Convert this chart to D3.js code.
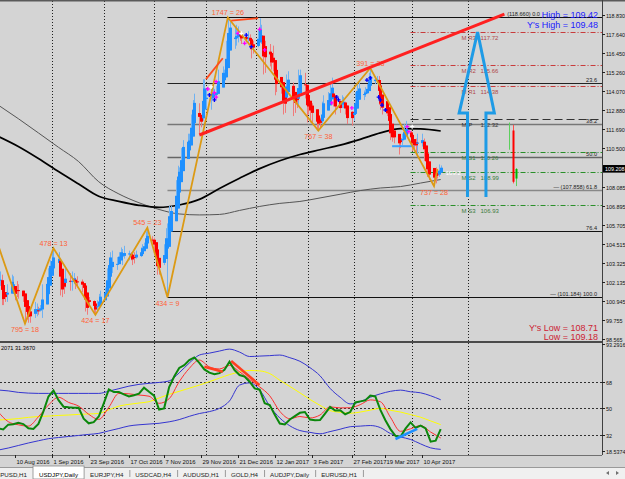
<!DOCTYPE html>
<html>
<head>
<meta charset="utf-8">
<script src="https://cdnjs.cloudflare.com/ajax/libs/d3/7.8.5/d3.min.js"></script>
<style>
  body { margin: 0; background: #d4d4d4; }
  svg { display: block; font-family: "Liberation Sans", Arial, sans-serif; }
</style>
</head>
<body>
<svg id="chart" width="625" height="479"></svg>
<script>
const parseDate = d3.utcParse('%Y-%m-%d');

// ---- daily bars, Mon-Fri, 1 Aug 2016 .. 21 Apr 2017 ----
const firstBar = '2016-08-01';
const lastBar = '2017-04-21';
const prevClose = 102.05;
const closes = [
    102.4, 100.9, 101.3, 101.2, 101.8,   102.5, 101.6, 101.2, 101.9, 101.3,
    101.2, 100.3, 100.1, 99.9, 100.2,    100.8, 100.2, 100.5, 100.5, 101.8,
    102.0, 102.9, 103.4, 103.3, 104.0,   103.4, 101.7, 101.8, 102.0, 102.6,
    101.8, 102.6, 102.2, 102.0, 102.3,   101.8, 101.7, 100.3, 100.8, 101.0,
    100.4, 100.5, 100.7, 101.1, 101.3,   101.6, 102.9, 103.5, 103.9, 102.9,
    103.6, 103.9, 104.2, 103.6, 104.2,   103.9, 103.8, 103.4, 103.9, 103.8,
    104.2, 104.3, 104.5, 105.3, 104.7,   104.8, 104.2, 103.3, 103.1, 103.1,
    104.5, 105.1, 105.7, 106.8, 106.6,   108.4, 109.1, 109.2, 110.3, 110.9,
    110.8, 111.1, 112.5, 113.3, 113.2,   111.9, 112.3, 114.5, 114.0, 113.5,
    114.0, 114.0, 113.8, 114.0, 115.3,   115.2, 115.0, 117.2, 118.1, 117.9,
    117.0, 117.9, 117.6, 117.5, 117.3,   117.3, 117.4, 117.0, 116.5, 117.0,
    117.6, 117.8, 117.2, 115.3, 117.0,   115.8, 115.8, 115.4, 114.5, 114.5,
    114.2, 112.7, 113.8, 115.0, 114.6,   112.8, 113.8, 113.3, 115.1, 115.1,
    113.8, 112.8, 113.2, 112.8, 112.6,   111.8, 112.3, 111.9, 113.2, 113.2,
    113.7, 114.2, 114.1, 113.3, 112.9,   113.1, 113.6, 113.3, 112.6, 112.1,
    112.7, 112.8, 113.7, 114.4, 114.0,   113.9, 114.0, 114.4, 115.0, 114.8,
    114.8, 114.8, 113.3, 113.3, 112.7,   112.6, 111.7, 111.2, 111.1, 111.3,
    110.6, 111.1, 111.1, 111.9, 111.4,   111.0, 110.7, 110.7, 110.8, 111.1,
    110.9, 110.0, 109.4, 109.1, 108.6,   108.9, 108.6, 108.9, 109.3, 109.21
];
const highs = [
    102.8, 102.6, 101.4, 101.4, 102.0,   102.6, 102.5, 101.8, 102.2, 102.0,
    101.6, 101.3, 100.9, 100.3, 100.3,   100.9, 100.8, 100.6, 100.7, 102.0,
    102.4, 103.0, 103.5, 104.0, 104.3,   104.0, 103.5, 102.0, 102.2, 103.0,
    102.7, 102.8, 102.7, 102.4, 102.5,   102.3, 102.0, 101.9, 100.9, 101.2,
    101.0, 100.7, 101.0, 101.4, 101.6,   101.8, 103.0, 103.6, 104.0, 104.1,
    103.7, 104.0, 104.3, 104.2, 104.4,   104.1, 104.0, 103.8, 104.0, 104.1,
    104.3, 104.5, 104.6, 105.3, 105.5,   105.0, 104.9, 104.2, 103.5, 103.3,
    104.5, 105.5, 105.8, 106.9, 106.9,   108.5, 109.4, 109.3, 110.5, 111.0,
    111.4, 111.4, 112.6, 113.5, 113.9,   113.3, 112.6, 114.8, 114.8, 114.2,
    114.2, 114.3, 114.2, 114.4, 115.4,   115.6, 115.4, 117.2, 118.66, 118.5,
    118.0, 118.2, 118.1, 117.8, 117.6,   117.5, 117.8, 117.6, 117.1, 117.2,
    117.9, 118.6, 118.2, 117.3, 117.2,   117.0, 116.4, 116.9, 115.4, 115.0,
    114.6, 114.3, 113.9, 115.1, 115.3,   114.6, 114.0, 113.9, 115.4, 115.4,
    115.2, 114.0, 113.8, 113.3, 113.3,   112.6, 112.4, 112.4, 113.4, 113.8,
    114.0, 114.5, 114.9, 114.2, 113.6,   113.3, 113.8, 113.7, 113.4, 112.8,
    112.8, 113.1, 114.0, 114.6, 114.6,   114.1, 114.3, 114.5, 115.2, 115.5,
    115.0, 115.0, 115.0, 113.6, 113.5,   112.9, 112.9, 111.8, 111.5, 111.5,
    111.2, 111.3, 111.4, 112.0, 112.2,   111.6, 111.2, 111.0, 111.1, 111.4,
    111.4, 111.1, 110.1, 109.5, 109.2,   109.0, 109.3, 109.2, 109.48, 109.42
];
const lows = [
    101.9, 100.7, 100.7, 100.9, 100.9,   101.7, 101.4, 101.0, 101.2, 101.1,
    100.9, 99.55, 99.8, 99.6, 99.6,      99.9, 100.0, 100.1, 100.3, 99.9,
    101.9, 101.9, 102.8, 103.1, 103.1,   103.0, 101.3, 101.2, 101.4, 101.8,
    101.6, 101.6, 102.0, 101.7, 101.8,   101.5, 101.6, 100.3, 100.1, 100.6,
    100.2, 100.1, 100.3, 100.5, 100.9,   101.2, 101.5, 102.8, 103.3, 102.7,
    102.9, 103.4, 103.6, 103.2, 103.6,   103.5, 103.5, 103.2, 103.3, 103.6,
    103.7, 104.0, 104.1, 104.4, 104.6,   104.6, 104.0, 103.2, 102.6, 102.6,
    103.2, 104.4, 101.2, 105.6, 106.0,   106.6, 108.0, 108.5, 109.0, 110.1,
    110.5, 110.6, 110.9, 112.3, 112.9,   111.4, 111.8, 112.2, 113.6, 112.9,
    112.9, 113.6, 113.4, 113.6, 114.0,   114.7, 114.8, 114.9, 116.8, 117.6,
    116.7, 116.9, 117.1, 117.2, 117.0,   117.1, 117.1, 116.8, 116.1, 116.4,
    116.8, 117.5, 117.0, 115.1, 115.2,   115.6, 115.4, 115.3, 113.8, 114.0,
    113.9, 112.6, 112.7, 113.5, 114.2,   112.5, 112.7, 113.0, 113.2, 114.6,
    113.6, 112.1, 112.6, 112.1, 112.1,   111.6, 111.6, 111.7, 111.9, 113.0,
    113.1, 113.3, 113.9, 113.1, 112.6,   112.7, 113.0, 113.0, 112.6, 112.0,
    111.9, 112.2, 112.7, 113.6, 113.9,   113.5, 113.7, 113.9, 114.3, 114.6,
    114.5, 114.5, 113.2, 112.9, 112.6,   112.5, 111.6, 111.0, 110.9, 110.8,
    110.1, 110.5, 110.7, 111.0, 111.3,   110.7, 110.3, 110.3, 110.1, 110.1,
    110.6, 109.7, 109.2, 108.7, 108.5,   108.13, 108.3, 108.6, 108.71, 109.18
];
const currentPrice = 109.208;

// ---- moving averages, one value every 12 days from 31 Jul 2016 ----
const maStart = '2016-07-31';
const maStep = 12;
const maBlack = [111.23, 110.6, 109.85, 109.04, 108.26, 107.49, 107.18, 106.93, 106.8, 106.95, 107.3, 107.98,
    108.62, 109.22, 109.71, 110.1, 110.4, 110.69, 111.05, 111.45, 111.72, 111.7, 111.57];
const maGray = [113.19, 112.34, 111.45, 110.55, 109.66, 108.4, 107.64, 107.09, 106.67, 106.39, 106.33, 106.36,
    106.61, 106.86, 107.05, 107.17, 107.39, 107.62, 107.85, 108.01, 108.1, 108.32, 108.54];

// ---- zigzag swings ----
const zigzagDates = ['2016-07-21', '2016-08-16', '2016-09-02', '2016-09-27', '2016-10-28', '2016-11-09',
    '2016-12-15', '2017-02-07', '2017-03-10', '2017-04-17', '2017-04-19'];
const zigzagPrices = [107.49, 99.55, 104.25, 100.09, 105.53, 101.19, 118.66, 111.59, 115.50, 108.13, 109.2];
const zigzagLabels = [null, '795 = 18', '478 = 13', '424 = 17', '545 = 23', '434 = 9', '1747 = 26',
    '767 = 38', '391 = 23', '737 = 28', null];

// ---- fibonacci retracement ----
const fibStart = '2016-11-09';
const fibHigh = 118.66;
const fibLow = 101.184;
const fibLevels = [0, 23.6, 38.2, 50, 61.8, 76.4, 100];
const fibLabels = ['(118.660) 0.0', '23.6', '38.2', '50.0', '\u2014 (107.858)  61.8', '76.4', '\u2014 (101.184)  100.0'];
const fibColors = ['#111', '#222', '#777', '#666', '#888', '#111', '#111'];

// ---- pivot levels ----
const pivotStart = '2017-04-03';
const pivotNames = ['M R3', 'M R2', 'M R1', 'M P', 'M S1', 'M S2', 'M S3'];
const pivotValues = [117.72, 115.66, 114.38, 112.32, 110.26, 108.99, 106.93];

// ---- drawn objects ----
const trendLine = [['2016-11-28', 111.32], ['2017-05-29', 118.87]];
const shortLines = [
    [['2016-12-02', 114.81], ['2016-12-12', 116.11]],
    [['2016-12-17', 118.46], ['2017-01-02', 118.61]]
];
const blueSegment = [['2017-03-23', 110.62], ['2017-04-05', 110.62]];
const arrowShape = [['2017-05-07', 107.45], ['2017-05-07', 112.69], ['2017-05-02', 112.69], ['2017-05-13', 117.75],
    ['2017-05-23', 112.69], ['2017-05-18', 112.69], ['2017-05-18', 107.45]];
const markers = [
    ['2016-12-03', 114.19, '#ff00ff'], ['2016-12-07', 113.96, '#ff00ff'], ['2016-12-08', 114.65, '#ff00ff'],
    ['2016-12-08', 113.69, '#ff00ff'], ['2016-12-04', 113.82, '#0000ff'], ['2016-12-07', 113.51, '#0000ff'],
    ['2016-12-05', 114.32, '#ffffff'], ['2016-12-21', 117.67, '#ff00ff'], ['2016-12-25', 117.04, '#ff00ff'],
    ['2017-01-03', 117.92, '#ff00ff'], ['2017-01-06', 116.63, '#ff00ff'], ['2016-12-29', 116.83, '#0000ff'],
    ['2016-12-26', 117.56, '#0000ff'], ['2016-12-23', 117.67, '#ffffff'], ['2017-02-15', 113.32, '#ff00ff'],
    ['2017-02-27', 113.01, '#ff00ff'], ['2017-02-18', 113.69, '#0000ff'], ['2017-02-19', 113.51, '#0000ff'],
    ['2017-03-08', 114.75, '#0000ff'], ['2017-03-10', 114.88, '#0000ff'], ['2017-03-15', 113.69, '#0000ff'],
    ['2017-03-16', 113.51, '#0000ff'], ['2017-03-17', 113.19, '#0000ff'], ['2017-03-19', 112.88, '#0000ff'],
    ['2017-04-01', 111.84, '#ff00ff'], ['2017-04-02', 111.53, '#ff00ff'], ['2017-04-04', 111.84, '#ffffff']
];
// projected candles on the right
const sideDates = ['2017-06-01', '2017-06-03', '2017-06-05'];
const sideOpen = [110.4, 111.6, 108.6];
const sideHigh = [112.1, 111.95, 109.25];
const sideLow = [110.4, 108.3, 108.13];
const sideClose = [112.1, 108.4, 109.2];

// ---- indicator window ----
const rsiStart = '2016-07-31';
const rsiStep = 3;
const rsiGreen = [36.5, 35.8, 39, 39.3, 40.2, 39.4, 36.5, 36.1, 39.5, 48, 58, 62, 55.5, 51.1, 50.7, 50.4, 50.4,
    43, 39.9, 40.7, 44.5, 53.4, 62.8, 61, 61, 59.4, 58, 58.8, 59.9, 64, 61.2, 58.6, 49.2, 50, 64.4, 71.5, 77.3,
    79.2, 82.6, 84.4, 80.7, 76.3, 74.1, 73, 73.8, 76.1, 81.5, 75.9, 72.5, 71.4, 68, 63.5, 62.6, 53.4, 52.2, 45.6,
    39.7, 39.1, 42.5, 44.8, 47, 47.5, 42.5, 42, 42.1, 46.5, 51, 48.5, 48.7, 46, 47.5, 54, 54.7, 55.4, 58.6, 58,
    49, 42, 36, 31.5, 30.8, 36.3, 40.5, 36.8, 38.3, 36.5, 27.5, 28.2, 36];
const bandStep = 6;
const rsiSignal = [47.7, 41, 38.9, 38, 44.3, 52.2, 57.5, 54, 51.5, 46, 42.5, 50.7, 60.1, 59.8, 59, 58.2, 53.4,
    56.5, 68, 77, 82.6, 78, 76.6, 79, 74.7, 69.5, 64.5, 58.5, 48, 43, 44.5, 43.5, 45.5, 51, 50.3, 50.4, 52.5,
    55.7, 54.5, 44, 34.5, 36.2, 38.4, 34, 30];
const rsiSlow = [42.1, 42.5, 43.1, 43.9, 44.5, 44.8, 45.2, 45.5, 45.9, 46.2, 46.6, 49, 51.5, 52.7, 53.6, 54.5,
    57, 59.5, 61.5, 63.6, 65.7, 68, 70.4, 72.8, 74.5, 75.6, 75.3, 73.5, 69, 64.8, 60.5, 56, 52, 48.5, 47.3,
    46.7, 47.5, 48.8, 50, 48.7, 47.5, 45.8, 44, 41.5, 39];
const bandUpper = [62.4, 61.8, 60.8, 60.3, 60.1, 60.1, 60.1, 60.1, 60.1, 60.1, 60.1, 61.6, 63.3, 65, 66.2, 66.9,
    67.5, 68.5, 74, 80.6, 86, 87.3, 88.7, 90, 88, 85, 85.3, 85.6, 86, 84.2, 81.8, 77.5, 72, 63.5, 57.5, 53,
    54.5, 57.5, 59.8, 61.5, 62.3, 61.2, 60.5, 58.5, 55.8];
const bandLower = [21.8, 23.2, 24.9, 26.6, 28.1, 29.5, 30.3, 31, 31.7, 32.4, 33.1, 34.8, 36.4, 38.1, 38.9, 39.4,
    39.9, 40.9, 42.4, 44.6, 46.5, 47.8, 50, 55, 65.7, 67.2, 62.5, 51.5, 43.5, 38.2, 35, 33.8, 32.8, 34.3, 35.9,
    37.6, 38, 38.4, 37, 33, 30.7, 29, 26, 23.3, 22.3];
const rsiLevels = [68, 50, 32];
const indicatorLines = [
    [['2016-12-01', 78.1], ['2016-12-12', 74.7], '#ff4020'],
    [['2016-12-17', 82.0], ['2017-01-03', 65.7], '#ff4020'],
    [['2017-03-25', 29.3], ['2017-04-07', 36.1], '#1e90ff']
];

// ---- axes ----
const priceTicks = [118.830, 117.640, 116.450, 115.260, 114.070, 112.880, 111.690, 110.500, 108.085, 106.895,
    105.705, 104.515, 103.325, 102.135, 100.945, 99.755, 98.565];
const indTicks = ['93.2916', '68', '50', '32', '18.5374'];
const dateTicks = ['2016-08-10', '2016-09-01', '2016-09-23', '2016-10-17', '2016-11-07', '2016-11-29',
    '2016-12-21', '2017-01-12', '2017-02-03', '2017-02-27', '2017-03-19', '2017-04-10'];
const gridDates = ['2016-09-01', '2016-10-02', '2016-11-01', '2016-12-02', '2017-01-01', '2017-02-01',
    '2017-02-28', '2017-04-04', '2017-05-07'];
const tabs = ['GBPUSD,H1', 'USDJPY,Daily', 'EURJPY,H4', 'USDCAD,H4', 'AUDUSD,H1', 'GOLD,H4', 'AUDJPY,Daily', 'EURUSD,H1'];
const activeTab = 'USDJPY,Daily';

// ================= drawing =================
const plotRight = 602;
const mainBottom = 341;
const indTop = 343;
const indBottom = 455;

const svg = d3.select('#chart');
const x = d3.scaleUtc()
    .domain([parseDate('2016-08-16'), parseDate('2017-04-17')])
    .range([25, 434]);
const y = d3.scaleLinear().domain([98.565, 118.830]).range([339.3, 14.7]);
const yi = d3.scaleLinear().domain([32, 68]).range([435, 381.7]);

const seriesDates = (start, step, n) => d3.range(n).map(i => d3.utcDay.offset(parseDate(start), i * step));
const pricePoint = d => [x(parseDate(d[0])), y(d[1])];

svg.append('rect').attr('width', 625).attr('height', 479).attr('fill', '#d4d4d4');

const defs = svg.append('defs');
defs.append('clipPath').attr('id', 'clipMain')
    .append('rect').attr('x', 0).attr('y', 1).attr('width', plotRight).attr('height', mainBottom - 1);
defs.append('clipPath').attr('id', 'clipInd')
    .append('rect').attr('x', 0).attr('y', indTop).attr('width', plotRight).attr('height', indBottom - indTop);

// vertical grid
svg.append('g').selectAll('line').data(gridDates).join('line')
    .attr('x1', d => Math.round(x(parseDate(d))) + 0.5)
    .attr('x2', d => Math.round(x(parseDate(d))) + 0.5)
    .attr('y1', 1).attr('y2', indBottom)
    .attr('stroke', '#202020').attr('stroke-width', 1).attr('stroke-dasharray', '1,2');

const main = svg.append('g').attr('clip-path', 'url(#clipMain)');

// fibonacci lines
const fibX = x(parseDate(fibStart));
fibLevels.forEach((lv, i) => {
    const p = fibHigh - lv / 100 * (fibHigh - fibLow);
    const yy = Math.round(y(p)) + 0.5;
    main.append('line').attr('x1', fibX).attr('x2', plotRight).attr('y1', yy).attr('y2', yy)
        .attr('stroke', fibColors[i]).attr('stroke-width', fibColors[i] === '#111' || fibColors[i] === '#222' ? 1 : 1.6);
    // the top label sits left of the day's high/low box
    main.append('text').attr('x', i === 0 ? 540 : 597).attr('y', yy - 1.5).attr('text-anchor', 'end')
        .attr('font-size', 5.6).attr('fill', '#222').text(fibLabels[i]);
});

// pivot lines
const pivX = x(parseDate(pivotStart));
pivotNames.forEach((name, i) => {
    const yy = Math.round(y(pivotValues[i])) + 0.5;
    const kind = name.charAt(2);
    const col = kind === 'R' ? '#c83c3c' : kind === 'S' ? '#2a8f2a' : '#333';
    const txt = kind === 'R' ? '#b04848' : kind === 'S' ? '#3a7a3a' : '#333';
    main.append('line').attr('x1', pivX).attr('x2', plotRight).attr('y1', yy).attr('y2', yy)
        .attr('stroke', col).attr('stroke-width', kind === 'P' ? 1.2 : 1)
        .attr('stroke-dasharray', kind === 'P' ? '8,4' : '5,2,1,2');
    main.append('text').attr('x', pivX + 51).attr('y', yy + 7).attr('font-size', 6).attr('fill', txt).text(name);
    main.append('text').attr('x', pivX + 70).attr('y', yy + 7).attr('font-size', 6).attr('fill', txt)
        .text(pivotValues[i].toFixed(2));
});

// moving averages
const maDates = seriesDates(maStart, maStep, maBlack.length);
const maLine = d3.line().curve(d3.curveMonotoneX).x((d, i) => x(maDates[i])).y(d => y(d));
main.append('path').attr('d', maLine(maGray)).attr('fill', 'none').attr('stroke', '#555').attr('stroke-width', 1);
main.append('path').attr('d', maLine(maBlack)).attr('fill', 'none').attr('stroke', '#000').attr('stroke-width', 1.7);

// heiken ashi style bars
const barDates = d3.utcDay.range(parseDate(firstBar), d3.utcDay.offset(parseDate(lastBar), 1))
    .filter(d => d.getUTCDay() !== 0 && d.getUTCDay() !== 6);
const bars = barDates.map((d, i) => ({
    date: d, open: i ? closes[i - 1] : prevClose, high: highs[i], low: lows[i], close: closes[i]
}));
let lastO, lastC;
bars.forEach((b, i) => {
    const c = (b.open + b.high + b.low + b.close) / 4;
    const o = i ? (lastO + lastC) / 2 : (b.open + b.close) / 2;
    b.haOpen = o; b.haClose = c;
    b.haHigh = Math.max(b.high, o, c); b.haLow = Math.min(b.low, o, c);
    b.up = c >= o;
    lastO = o; lastC = c;
});
const barG = main.append('g');
barG.selectAll('line').data(bars).join('line')
    .attr('x1', d => Math.round(x(d.date)) + 0.5).attr('x2', d => Math.round(x(d.date)) + 0.5)
    .attr('y1', d => y(d.haHigh)).attr('y2', d => y(d.haLow))
    .attr('stroke', d => d.up ? '#6fb2f2' : '#f07a7a').attr('stroke-width', 1);
barG.selectAll('rect').data(bars).join('rect')
    .attr('x', d => Math.round(x(d.date)) - 1)
    .attr('width', 3)
    .attr('y', d => y(Math.max(d.haOpen, d.haClose)))
    .attr('height', d => Math.max(1, Math.abs(y(d.haOpen) - y(d.haClose))))
    .attr('fill', d => d.up ? '#1e90ff' : '#ff0000');

main.append('path').attr('d', d3.line()(blueSegment.map(pricePoint)))
    .attr('stroke', '#3aa0ff').attr('stroke-width', 2).attr('fill', 'none');

// zigzag
const zz = zigzagDates.map((d, i) => [d, zigzagPrices[i]]);
main.append('path').attr('d', d3.line()(zz.map(pricePoint)))
    .attr('fill', 'none').attr('stroke', '#dc9a14').attr('stroke-width', 1.8);
zz.forEach((p, i) => {
    if (!zigzagLabels[i]) return;
    const isHigh = zigzagPrices[i] > zigzagPrices[i - 1];
    const [px, py] = pricePoint(p);
    main.append('text').attr('x', px).attr('y', isHigh ? py - 2.5 : py + 8.5)
        .attr('text-anchor', 'middle').attr('font-size', 7.2).attr('fill', '#ff6236').text(zigzagLabels[i]);
});

// trend lines
main.append('path').attr('d', d3.line()(trendLine.map(pricePoint)))
    .attr('stroke', '#ff2020').attr('stroke-width', 3).attr('fill', 'none');
shortLines.forEach(l => main.append('path').attr('d', d3.line()(l.map(pricePoint)))
    .attr('stroke', '#ff4a1c').attr('stroke-width', 1.8).attr('fill', 'none'));

// markers
main.append('g').selectAll('path').data(markers).join('path')
    .attr('transform', d => `translate(${pricePoint(d).join(',')})`)
    .attr('d', 'M-2,0H2M0,-2V2').attr('stroke', d => d[2]).attr('stroke-width', 1.3);

// projected candles
sideDates.forEach((d, i) => {
    const cx = Math.round(x(parseDate(d))) + 0.5;
    const up = sideClose[i] >= sideOpen[i];
    main.append('line').attr('x1', cx).attr('x2', cx).attr('y1', y(sideHigh[i])).attr('y2', y(sideLow[i]))
        .attr('stroke', up ? '#5ccf5c' : '#ff5050').attr('stroke-width', 1);
    if (i > 0) {
        main.append('rect').attr('x', cx - 1).attr('width', 2)
            .attr('y', y(Math.max(sideOpen[i], sideClose[i])))
            .attr('height', Math.abs(y(sideOpen[i]) - y(sideClose[i])))
            .attr('fill', up ? '#00b800' : '#ff0000');
    }
});

// arrow
main.append('path').attr('d', d3.line()(arrowShape.map(pricePoint)))
    .attr('fill', 'none').attr('stroke', '#1e9be6').attr('stroke-width', 3).attr('stroke-linejoin', 'miter');

main.append('text').attr('x', x(parseDate(lastBar)) + 5).attr('y', y(currentPrice) + 6)
    .attr('font-size', 6).attr('fill', '#fff').text('109.2');

// high / low info
const info = [['High = 109.42', 18, '#1a1aff'], ["Y's High = 109.48", 28, '#1a1aff'],
    ["Y's Low = 108.71", 331, '#cc2233'], ['Low = 109.18', 340, '#cc2233']];
info.forEach(t => main.append('text').attr('x', 598).attr('y', t[1]).attr('text-anchor', 'end')
    .attr('font-size', 9).attr('fill', t[2]).text(t[0]));

// ---- indicator ----
const ind = svg.append('g').attr('clip-path', 'url(#clipInd)');
rsiLevels.forEach(v => ind.append('line').attr('x1', 0).attr('x2', plotRight)
    .attr('y1', Math.round(yi(v)) + 0.5).attr('y2', Math.round(yi(v)) + 0.5)
    .attr('stroke', '#303030').attr('stroke-dasharray', '2,2'));
const bandDates = seriesDates(rsiStart, bandStep, rsiSignal.length);
const greenDates = seriesDates(rsiStart, rsiStep, rsiGreen.length);
const bandLine = d3.line().curve(d3.curveMonotoneX).x((d, i) => x(bandDates[i])).y(d => yi(d));
const greenLine = d3.line().x((d, i) => x(greenDates[i])).y(d => yi(d));
ind.append('path').attr('d', bandLine(bandUpper)).attr('fill', 'none').attr('stroke', '#3535d0').attr('stroke-width', 1);
ind.append('path').attr('d', bandLine(bandLower)).attr('fill', 'none').attr('stroke', '#3535d0').attr('stroke-width', 1);
ind.append('path').attr('d', bandLine(rsiSlow)).attr('fill', 'none').attr('stroke', '#ffff00').attr('stroke-width', 1);
ind.append('path').attr('d', bandLine(rsiSignal)).attr('fill', 'none').attr('stroke', '#ff3030').attr('stroke-width', 1);
ind.append('path').attr('d', greenLine(rsiGreen)).attr('fill', 'none').attr('stroke', '#0b870b').attr('stroke-width', 2);
indicatorLines.forEach(l => ind.append('path')
    .attr('d', d3.line()([l[0], l[1]].map(d => [x(parseDate(d[0])), yi(d[1])])))
    .attr('stroke', l[2]).attr('stroke-width', 2.5).attr('fill', 'none'));
svg.append('text').attr('x', 1).attr('y', 350).attr('font-size', 5.6).attr('fill', '#000').text('2071 31.3670');

// ---- frame and axes ----
svg.append('rect').attr('x', 0).attr('y', 0).attr('width', 625).attr('height', 1.5).attr('fill', '#5a5a5a');
svg.append('rect').attr('x', 0).attr('y', mainBottom).attr('width', plotRight).attr('height', 2).attr('fill', '#4a4a4a');
svg.append('line').attr('x1', plotRight + 0.5).attr('x2', plotRight + 0.5).attr('y1', 0).attr('y2', indBottom)
    .attr('stroke', '#404040');
svg.append('line').attr('x1', 0).attr('x2', plotRight).attr('y1', indBottom + 0.5).attr('y2', indBottom + 0.5)
    .attr('stroke', '#707070');

const axisG = svg.append('g');
priceTicks.forEach(v => {
    const yy = Math.round(y(v)) + 0.5;
    axisG.append('line').attr('x1', plotRight).attr('x2', plotRight + 3).attr('y1', yy).attr('y2', yy).attr('stroke', '#222');
    axisG.append('text').attr('x', plotRight + 4).attr('y', yy + 2).attr('font-size', 5.4).attr('fill', '#111')
        .text(v.toFixed(3));
});
indTicks.forEach((t, i) => {
    const v = +t;
    let yy = Math.round(yi(v)) + 0.5;
    if (i === 0) yy = indTop + 1.5;
    if (i === indTicks.length - 1) yy = indBottom - 3.5;
    axisG.append('line').attr('x1', plotRight).attr('x2', plotRight + 3).attr('y1', yy).attr('y2', yy).attr('stroke', '#222');
    axisG.append('text').attr('x', plotRight + 4).attr('y', yy + 2).attr('font-size', 5.4).attr('fill', '#111').text(t);
});
// current price box
axisG.append('rect').attr('x', plotRight + 1).attr('y', y(currentPrice) - 3.8).attr('width', 22).attr('height', 7.6)
    .attr('fill', '#000');
axisG.append('text').attr('x', plotRight + 3).attr('y', y(currentPrice) + 2).attr('font-size', 5.4).attr('fill', '#fff')
    .text(currentPrice.toFixed(3));

const fmtDate = d3.utcFormat('%-d %b %Y');
dateTicks.forEach(d => {
    const xx = Math.round(x(parseDate(d))) + 0.5;
    axisG.append('line').attr('x1', xx).attr('x2', xx).attr('y1', indBottom).attr('y2', indBottom + 3).attr('stroke', '#222');
    axisG.append('text').attr('x', xx + 1).attr('y', 463.5).attr('font-size', 5.9).attr('fill', '#111')
        .text(fmtDate(parseDate(d)));
});

// ---- tab bar ----
const tabG = svg.append('g');
tabG.append('rect').attr('x', 0).attr('y', 467).attr('width', 625).attr('height', 12).attr('fill', '#f0f0f0');
tabG.append('line').attr('x1', 0).attr('x2', 625).attr('y1', 467.5).attr('y2', 467.5).attr('stroke', '#9a9a9a');
const probe = tabG.append('text').attr('font-size', 6.2);
const widths = tabs.map(t => probe.text(t).node().getComputedTextLength() + 12);
probe.remove();
let cursor = 33 - widths[0];
tabs.forEach((t, i) => {
    const active = t === activeTab;
    if (active) {
        tabG.append('rect').attr('x', cursor).attr('y', 466).attr('width', widths[i]).attr('height', 13)
            .attr('fill', '#ffffff').attr('stroke', '#8a8a8a').attr('stroke-width', 0.8);
    }
    tabG.append('text').attr('x', cursor + 6).attr('y', 476.5).attr('font-size', 6.2)
        .attr('fill', active ? '#000' : '#222').text(t);
    cursor += widths[i];
    if (!active && tabs[i + 1] !== activeTab) {
        tabG.append('line').attr('x1', cursor + 0.5).attr('x2', cursor + 0.5).attr('y1', 470).attr('y2', 477)
            .attr('stroke', '#9a9a9a');
    }
});
tabG.append('path').attr('d', 'M606,473L609,471V475Z').attr('fill', '#707070');
tabG.append('path').attr('d', 'M619,473L616,471V475Z').attr('fill', '#707070');
</script>
</body>
</html>
